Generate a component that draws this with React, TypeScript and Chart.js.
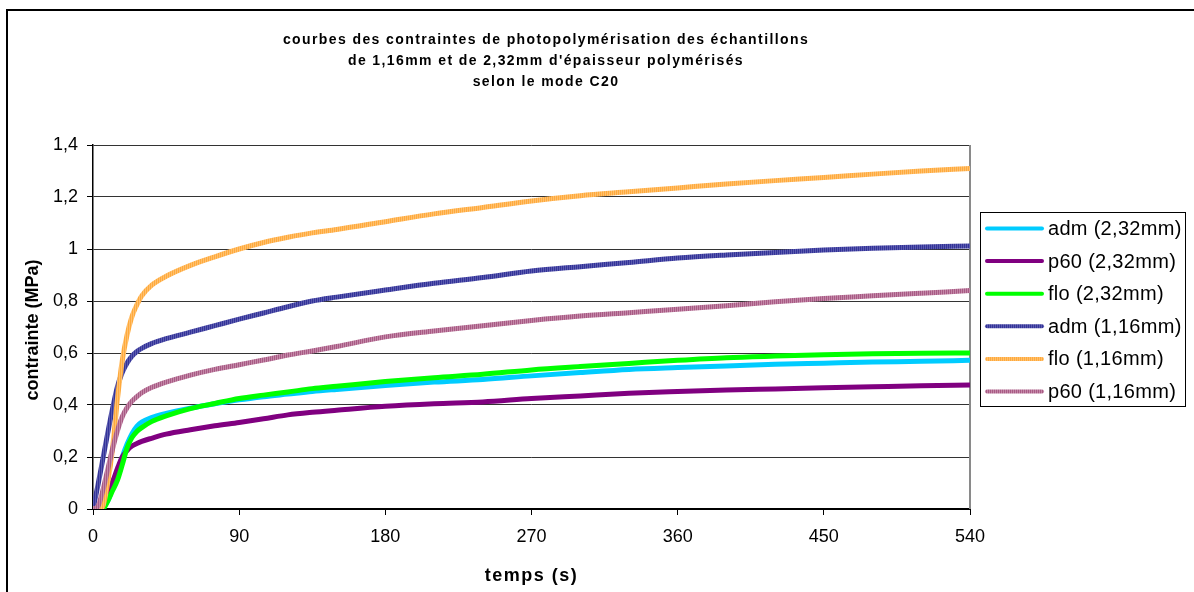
import React, { useEffect, useRef } from "react";
import { Chart, registerables } from "chart.js";

Chart.register(...registerables);

const FONT = '"Liberation Sans", Arial, Helvetica, sans-serif';

const TITLE_LINES = [
  "courbes des contraintes de photopolymérisation des échantillons",
  "de 1,16mm et de 2,32mm d'épaisseur polymérisés",
  "selon le mode C20",
];
const X_TITLE = "temps (s)";
const Y_TITLE = "contrainte (MPa)";

const X_TICKS = [0, 90, 180, 270, 360, 450, 540];
const Y_TICKS = [0, 0.2, 0.4, 0.6, 0.8, 1, 1.2, 1.4];
const Y_TICK_LABELS = ["0", "0,2", "0,4", "0,6", "0,8", "1", "1,2", "1,4"];

const SERIES_LABELS = [
  "adm (2,32mm)",
  "p60 (2,32mm)",
  "flo (2,32mm)",
  "adm (1,16mm)",
  "flo (1,16mm)",
  "p60 (1,16mm)",
];

// time (s)
const TIME = [0, 3, 6, 9, 12, 15, 18, 21, 24, 27, 30, 36, 45, 60, 75, 90, 105, 120, 135, 150, 180, 210, 240, 270, 300, 330, 360, 390, 420, 450, 480, 510, 540];

const ADM_232 = [0, 0, 0.01, 0.03, 0.08, 0.14, 0.2, 0.25, 0.29, 0.318, 0.334, 0.352, 0.368, 0.388, 0.405, 0.42, 0.432, 0.442, 0.452, 0.46, 0.475, 0.488, 0.498, 0.512, 0.525, 0.537, 0.544, 0.55, 0.557, 0.561, 0.565, 0.568, 0.572];
const P60_232 = [0, 0.005, 0.03, 0.07, 0.105, 0.155, 0.2, 0.225, 0.242, 0.252, 0.26, 0.272, 0.288, 0.305, 0.32, 0.333, 0.347, 0.362, 0.372, 0.38, 0.395, 0.405, 0.412, 0.425, 0.435, 0.445, 0.452, 0.458, 0.462, 0.466, 0.47, 0.474, 0.477];
const FLO_232 = [0, 0, 0, 0.03, 0.07, 0.11, 0.17, 0.235, 0.275, 0.298, 0.313, 0.336, 0.358, 0.386, 0.406, 0.425, 0.438, 0.45, 0.463, 0.472, 0.49, 0.505, 0.518, 0.535, 0.548, 0.56, 0.572, 0.582, 0.588, 0.593, 0.597, 0.599, 0.6];
const ADM_116 = [0, 0.09, 0.19, 0.29, 0.385, 0.47, 0.525, 0.562, 0.588, 0.606, 0.618, 0.636, 0.655, 0.68, 0.705, 0.73, 0.754, 0.778, 0.8, 0.815, 0.842, 0.868, 0.89, 0.915, 0.932, 0.948, 0.965, 0.977, 0.987, 0.996, 1.003, 1.008, 1.012];
const FLO_116 = [0, 0, 0.01, 0.1, 0.23, 0.42, 0.57, 0.67, 0.74, 0.785, 0.82, 0.86, 0.895, 0.937, 0.97, 1.0, 1.025, 1.045, 1.062, 1.075, 1.105, 1.135, 1.16, 1.185, 1.205, 1.22, 1.235, 1.25, 1.263, 1.275, 1.288, 1.3, 1.31];
const P60_116 = [0, 0.01, 0.07, 0.15, 0.23, 0.3, 0.355, 0.39, 0.415, 0.432, 0.447, 0.467, 0.488, 0.515, 0.537, 0.555, 0.573, 0.592, 0.608, 0.625, 0.662, 0.685, 0.705, 0.725, 0.742, 0.755, 0.768, 0.782, 0.797, 0.81, 0.82, 0.83, 0.84];

const SERIES_VALUES = [ADM_232, P60_232, FLO_232, ADM_116, FLO_116, P60_116];
// [main colour, stripe colour or null]
const SERIES_COLORS: [string, string | null][] = [
  ["#00CCFF", null],
  ["#800080", null],
  ["#00FF00", null],
  ["#333399", "#5B5BAE"],
  ["#FFAA3C", "#FFC06E"],
  ["#A85A84", "#C488A8"],
];

function makeStroke(main: string, stripe: string | null): string | CanvasPattern {
  if (!stripe) return main;
  const c = document.createElement("canvas");
  c.width = 2;
  c.height = 2;
  const g = c.getContext("2d")!;
  g.fillStyle = main;
  g.fillRect(0, 0, 1, 2);
  g.fillStyle = stripe;
  g.fillRect(1, 0, 1, 2);
  const p = g.createPattern(c, "repeat");
  return p || main;
}

export default function App() {
  const ref = useRef<HTMLCanvasElement | null>(null);

  useEffect(() => {
    if (!ref.current) return;
    const strokes = SERIES_COLORS.map(([m, s]) => makeStroke(m, s));

    const decor = {
      id: "decor",
      beforeDatasetsDraw(chart: any) {
        const ctx = chart.ctx as CanvasRenderingContext2D;
        const a = chart.chartArea;
        ctx.save();
        ctx.strokeStyle = "#8a8a8a";
        ctx.lineWidth = 2;
        ctx.beginPath();
        ctx.moveTo(a.right, a.top);
        ctx.lineTo(a.right, a.bottom);
        ctx.stroke();
        ctx.restore();
      },
      afterDraw(chart: any) {
        const ctx = chart.ctx as CanvasRenderingContext2D;
        const a = chart.chartArea;
        ctx.save();
        // outer frame
        ctx.strokeStyle = "#000";
        ctx.lineWidth = 2;
        ctx.beginPath();
        ctx.moveTo(7, 592);
        ctx.lineTo(7, 10);
        ctx.lineTo(1194, 10);
        ctx.stroke();

        ctx.fillStyle = "#000";
        ctx.textAlign = "center";
        ctx.textBaseline = "middle";
        // title
        ctx.font = `bold 14px ${FONT}`;
        (ctx as any).letterSpacing = "1.4px";
        TITLE_LINES.forEach((t, i) => ctx.fillText(t, 546, 40 + i * 21));
        // x title
        ctx.font = `bold 18px ${FONT}`;
        (ctx as any).letterSpacing = "1.5px";
        ctx.fillText(X_TITLE, (a.left + a.right) / 2, 576);
        // y title
        (ctx as any).letterSpacing = "0px";
        ctx.save();
        ctx.translate(33, 330);
        ctx.rotate(-Math.PI / 2);
        ctx.fillText(Y_TITLE, 0, 0);
        ctx.restore();

        // legend
        ctx.strokeStyle = "#000";
        ctx.lineWidth = 1;
        ctx.strokeRect(980.5, 212.5, 205, 194);
        ctx.textAlign = "left";
        ctx.font = `20px ${FONT}`;
        (ctx as any).letterSpacing = "0.3px";
        SERIES_LABELS.forEach((lab, i) => {
          const y = 228.5 + i * 32.6;
          ctx.strokeStyle = strokes[i] as any;
          ctx.lineWidth = 4;
          ctx.lineCap = "round";
          ctx.beginPath();
          ctx.moveTo(987, y);
          ctx.lineTo(1042, y);
          ctx.stroke();
          ctx.fillStyle = "#000";
          ctx.fillText(lab, 1048, y + 1);
        });
        ctx.restore();
      },
    };

    const chart = new Chart(ref.current, {
      type: "scatter",
      data: {
        datasets: SERIES_LABELS.map((label, i) => ({
          label,
          data: TIME.map((t, k) => ({ x: t, y: SERIES_VALUES[i][k] })),
          showLine: true,
          borderColor: strokes[i] as any,
          backgroundColor: SERIES_COLORS[i][0],
          borderWidth: 5,
          pointRadius: 0,
          pointHoverRadius: 0,
          cubicInterpolationMode: "monotone" as const,
          order: SERIES_LABELS.length - i,
        })),
      },
      plugins: [decor],
      options: {
        animation: false,
        responsive: false,
        devicePixelRatio: 1,
        layout: { padding: { top: 145, right: 224, bottom: 0, left: 0 } },
        plugins: {
          legend: { display: false },
          title: { display: false },
          tooltip: { enabled: false },
        },
        scales: {
          x: {
            type: "linear",
            min: 0,
            max: 540,
            afterBuildTicks: (s: any) => {
              s.ticks = X_TICKS.map((v) => ({ value: v }));
            },
            afterFit: (s: any) => {
              s.height = 83;
            },
            ticks: {
              color: "#000",
              font: { family: FONT, size: 18 },
              padding: 11,
              maxRotation: 0,
              autoSkip: false,
              callback: (v: any) => String(v),
            },
            grid: {
              drawOnChartArea: false,
              drawTicks: true,
              tickLength: 6,
              tickColor: "#000",
              tickWidth: 1,
            },
            border: { color: "#000", width: 2 },
          },
          y: {
            type: "linear",
            min: 0,
            max: 1.4,
            afterBuildTicks: (s: any) => {
              s.ticks = Y_TICKS.map((v) => ({ value: v }));
            },
            afterFit: (s: any) => {
              s.width = 93;
            },
            ticks: {
              color: "#000",
              font: { family: FONT, size: 18 },
              padding: 9,
              autoSkip: false,
              callback: (_v: any, i: number) => Y_TICK_LABELS[i],
            },
            grid: {
              color: "#333",
              lineWidth: 1,
              drawTicks: true,
              tickLength: 6,
              tickColor: "#000",
            },
            border: { color: "#000", width: 1.5 },
          },
        },
      },
    });
    return () => chart.destroy();
  }, []);

  return (
    <div style={{ position: "fixed", left: 0, top: 0, width: 1194, height: 592, background: "#fff" }}>
      <canvas ref={ref} width={1194} height={592} style={{ display: "block" }} />
    </div>
  );
}
